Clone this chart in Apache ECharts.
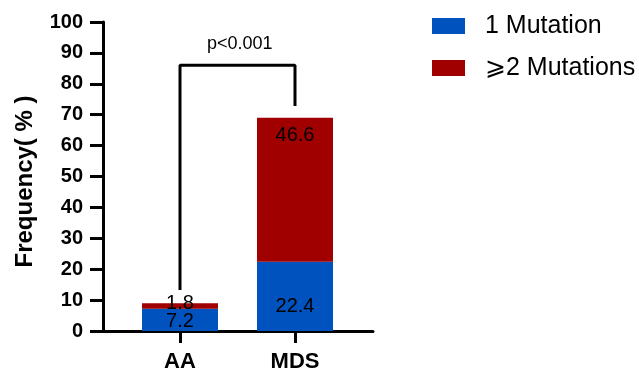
<!DOCTYPE html>
<html>
<head>
<meta charset="utf-8">
<script src="https://cdn.jsdelivr.net/npm/echarts@6/dist/echarts.min.js"></script>
<style>
html,body{margin:0;padding:0;background:#fff;}
#chart{width:639px;height:370px;}
</style>
</head>
<body>
<div id="chart"></div>
<script>
const categories = ['AA', 'MDS'];
const seriesNames = ['1 Mutation', '\u2a7e2 Mutations'];
const oneMutation = [7.2, 22.4];
const twoPlusMutations = [1.8, 46.6];
const bracketCats = ['AA', 'AA', 'MDS', 'MDS'];
const bracketY = [13.3, 86, 86, 72.8];
const pText = 'p<0.001';
const yMin = 0, yMax = 100, yStep = 10;

const FONT = '"Liberation Sans", Arial, sans-serif';
const BLUE = '#0052BE';
const RED = '#A00000';

// per-item label styling (positions only, values come from arrays)
const blueLabelStyle = [
  { position: 'inside', offset: [0, 2] },
  { position: 'insideBottom', distance: 15 }
];
const redLabelStyle = [
  { position: 'inside', offset: [0, -2] },
  { position: 'insideTop', distance: 8 }
];

const chart = echarts.init(document.getElementById('chart'), null, { renderer: 'canvas' });
const labelBase = { show: true, color: '#000', fontSize: 20, fontFamily: FONT, formatter: p => p.value };

chart.setOption({
  animation: false,
  backgroundColor: '#fff',
  title: {
    text: pText, left: 202, top: 30, padding: 5,
    textStyle: { fontSize: 18, fontWeight: 'normal', color: '#000', fontFamily: FONT }
  },
  legend: {
    orient: 'vertical', left: 427, top: 7, itemWidth: 33, itemHeight: 16, itemGap: 14,
    icon: 'rect',
    textStyle: { fontSize: 25, color: '#000', fontFamily: FONT, lineHeight: 28, padding: [0, 0, 0, 15] },
    data: [seriesNames[0], seriesNames[1]]
  },
  grid: [
    { left: 103, right: 266, top: 22, bottom: 39, outerBoundsMode: 'none', containLabel: false },
    { left: 122.5, right: 286.5, top: 22, bottom: 39, outerBoundsMode: 'none', containLabel: false }
  ],
  xAxis: [
    { gridIndex: 0, type: 'value', min: 0, max: 1, axisLine: { show: true, lineStyle: { color: '#000', width: 3 } },
      axisTick: { show: false }, axisLabel: { show: false }, splitLine: { show: false } },
    { gridIndex: 1, type: 'category', data: categories, axisLine: { show: false },
      axisTick: { show: true, alignWithLabel: true, length: 12, lineStyle: { color: '#000', width: 3 } },
      axisLabel: { margin: 20, fontSize: 22, fontWeight: 'bold', color: '#000', fontFamily: FONT } }
  ],
  yAxis: [
    { gridIndex: 0, type: 'value', min: yMin, max: yMax, interval: yStep,
      name: 'Frequency( % )', nameLocation: 'middle', nameGap: 66,
      nameTextStyle: { fontSize: 24, fontWeight: 'bold', color: '#000', fontFamily: FONT, padding: [0, 10, 0, 0] },
      axisLine: { show: true, lineStyle: { color: '#000', width: 3 } },
      axisTick: { show: true, length: 13, lineStyle: { color: '#000', width: 3 } },
      axisLabel: { margin: 20, fontSize: 20, fontWeight: 'bold', color: '#000', fontFamily: FONT },
      splitLine: { show: false } },
    { gridIndex: 1, type: 'value', min: yMin, max: yMax, interval: yStep, show: false, splitLine: { show: false } }
  ],
  series: [
    { name: seriesNames[0], type: 'bar', stack: 's', xAxisIndex: 1, yAxisIndex: 1, barWidth: 76,
      itemStyle: { color: BLUE },
      data: oneMutation.map((v, i) => ({ value: v, label: Object.assign({}, labelBase, blueLabelStyle[i]) })) },
    { name: seriesNames[1], type: 'bar', stack: 's', xAxisIndex: 1, yAxisIndex: 1, barWidth: 76,
      itemStyle: { color: RED },
      data: twoPlusMutations.map((v, i) => ({ value: v, label: Object.assign({}, labelBase, redLabelStyle[i]) })) },
    { type: 'line', xAxisIndex: 1, yAxisIndex: 1, symbol: 'none', silent: true, z: 5,
      lineStyle: { color: '#000', width: 3 },
      data: bracketCats.map((c, i) => [c, bracketY[i]]) }
  ]
});
</script>
</body>
</html>
